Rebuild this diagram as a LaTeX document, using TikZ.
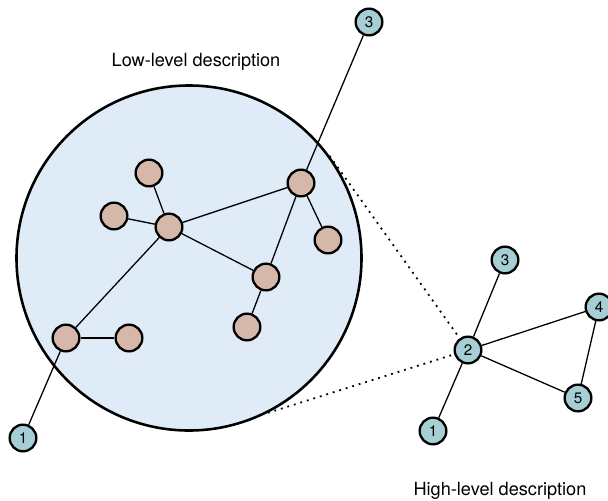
\documentclass[tikz,border=0pt]{standalone}
\usepackage{fontspec}
\setmainfont{TeX Gyre Heros}
\usepackage{tikz}
\usetikzlibrary{calc}
\definecolor{regionfill}{RGB}{223,235,246}
\definecolor{lowfill}{RGB}{214,184,170}
\definecolor{highfill}{RGB}{165,207,213}
\tikzset{
  region/.style={
    circle,
    draw=black,
    line width=2.2pt,
    fill=regionfill,
    inner sep=0pt,
    minimum size=10.35cm
  },
  low dot/.style={
    circle,
    draw=black,
    line width=2pt,
    fill=lowfill,
    inner sep=0pt,
    minimum size=0.8cm
  },
  high dot/.style={
    circle,
    draw=black,
    line width=2pt,
    fill=highfill,
    inner sep=0pt,
    minimum size=0.8cm,
    font=\fontsize{13}{15}\selectfont
  },
  link/.style={
    line width=1.1pt
  },
  zoom line/.style={
    line width=1.5pt,
    dash pattern=on 1.6pt off 4.2pt
  },
  caption/.style={
    font=\fontsize{15.5}{18}\selectfont
  }
}

\begin{document}
\begin{tikzpicture}[x=0.03cm, y=-0.03cm]
    \useasboundingbox (0,0) rectangle (608,501);

    % grosse Region
    \node[region] (low) at (189,258) {};
    \node[caption] (lowtext) at (196,62) {Low-level description};

    % Knoten der feinen Beschreibung
    \node[low dot] (a) at (149,173) {};
    \node[low dot] (b) at (114,216) {};
    \node[low dot] (c) at (169,227) {};
    \node[low dot] (d) at (301,183) {};
    \node[low dot] (e) at (328,240) {};
    \node[low dot] (f) at (266,277) {};
    \node[low dot] (g) at (247,327) {};
    \node[low dot] (h) at (66,338) {};
    \node[low dot] (i) at (129,338) {};
    \node[high dot] (outa) at (23,438) {1};
    \node[high dot] (outb) at (369,22) {3};

    \foreach \p/\q in {a/c, b/c, c/d, c/f, c/h, d/f, d/e, f/g, h/i, h/outa, d/outb}
      \draw[link] (\p) -- (\q);

    % Knoten der groben Beschreibung
    \node[high dot] (n1) at (433,431) {1};
    \node[high dot] (n2) at (468,350) {2};
    \node[high dot] (n3) at (505,260) {3};
    \node[high dot] (n4) at (599,307) {4};
    \node[high dot] (n5) at (578,398) {5};
    \node[caption] (hightext) at (500,491) {High-level description};

    \foreach \p/\q in {n2/n1, n2/n3, n2/n4, n2/n5, n4/n5}
      \draw[link] (\p) -- (\q);

    % gepunktete Verbindung
    \draw[zoom line] (low.36) -- (n2);
    \draw[zoom line] (low.-63) -- (n2);

  \end{tikzpicture}
\end{document}
